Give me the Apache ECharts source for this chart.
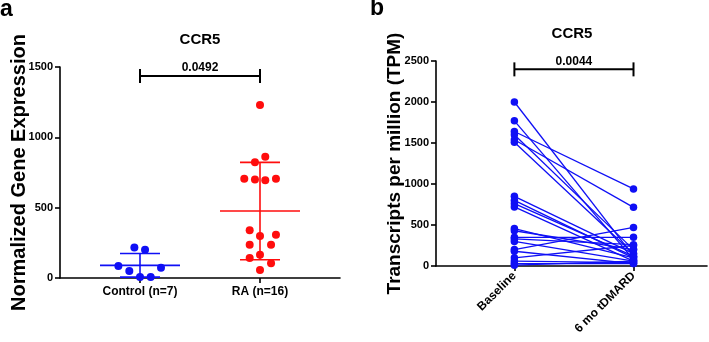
<!DOCTYPE html>
<html><head><meta charset="utf-8">
<script src="https://cdn.jsdelivr.net/npm/echarts@6/dist/echarts.min.js"></script>
<style>html,body{margin:0;padding:0;background:#fff}#c{width:709px;height:342px}</style>
</head><body><div id="c"></div>
<script>
// ---- Panel a data ----
const groupNames = ['Control (n=7)', 'RA (n=16)'];
const controlValues = [216, 201, 85, 50, 73, 7, 7];
const controlJitter = [-0.047, 0.042, -0.18, -0.089, 0.175, 0, 0.089];
const raValues = [1230, 862, 822, 706, 701, 695, 706, 339, 298, 308, 237, 237, 142, 166, 104, 57];
const raJitter = [0, 0.044, -0.042, -0.131, -0.042, 0.044, 0.133, -0.086, 0, 0.133, -0.086, 0.092, -0.086, 0, 0.092, 0];
const groupMeans = [90, 476];
const groupSD = [84, 346];
const pValueA = '0.0492';
const bracketA = 1436;
const yTicksA = [0, 500, 1000, 1500];

// ---- Panel b data ----
const timeNames = ['Baseline', '6 mo tDMARD'];
const baselineTPM = [2000, 1770, 1640, 1600, 1540, 1510, 850, 800, 760, 720, 456, 430, 350, 330, 300, 200, 180, 100, 60, 30, 10];
const followupTPM = [120, 80, 940, 200, 715, 150, 150, 100, 120, 60, 100, 200, 350, 260, 60, 470, 30, 250, 40, 30, 60];
const pValueB = '0.0044';
const bracketB = 2398;
const yTicksB = [0, 500, 1000, 1500, 2000, 2500];

const FONT = 'Liberation Sans, Arial, sans-serif';
const BLUE = '#0f0ff5';
const RED = '#ff0d0d';
const groupColors = [BLUE, RED];

function bracketRender(label) {
  return function (params, api) {
    const p1 = api.coord([api.value(0), api.value(2)]);
    const p2 = api.coord([api.value(1), api.value(2)]);
    const h = 7;
    const st = { stroke: '#000', lineWidth: 2 };
    return {
      type: 'group',
      children: [
        { type: 'line', shape: { x1: p1[0], y1: p1[1], x2: p2[0], y2: p2[1] }, style: st },
        { type: 'line', shape: { x1: p1[0], y1: p1[1] - h, x2: p1[0], y2: p1[1] + h }, style: st },
        { type: 'line', shape: { x1: p2[0], y1: p2[1] - h, x2: p2[0], y2: p2[1] + h }, style: st },
        { type: 'text', x: (p1[0] + p2[0]) / 2, y: p1[1] - 2,
          style: { text: label, fill: '#000', font: 'bold 12px ' + FONT, textAlign: 'center', textVerticalAlign: 'bottom' } }
      ]
    };
  };
}

function errRender(params, api) {
  const x = api.value(0), m = api.value(1), sd = api.value(2);
  const c = groupColors[params.dataIndex];
  const st = { stroke: c, lineWidth: 1.6 };
  const a = api.coord([x - 1/3, m]), b = api.coord([x + 1/3, m]);
  const hi1 = api.coord([x - 1/6, m + sd]), hi2 = api.coord([x + 1/6, m + sd]);
  const lo1 = api.coord([x - 1/6, Math.max(m - sd, 0)]), lo2 = api.coord([x + 1/6, Math.max(m - sd, 0)]);
  const vc = api.coord([x, m]);
  return {
    type: 'group',
    children: [
      { type: 'line', shape: { x1: a[0], y1: a[1], x2: b[0], y2: b[1] }, style: st },
      { type: 'line', shape: { x1: hi1[0], y1: hi1[1], x2: hi2[0], y2: hi2[1] }, style: st },
      { type: 'line', shape: { x1: lo1[0], y1: lo1[1], x2: lo2[0], y2: lo2[1] }, style: st },
      { type: 'line', shape: { x1: vc[0], y1: hi1[1], x2: vc[0], y2: lo1[1] }, style: st }
    ]
  };
}

const axisLineStyle = { color: '#000', width: 1.6 };
const labelStyle = { color: '#000', fontWeight: 'bold', fontFamily: FONT };

const series = [
  { type: 'scatter', xAxisIndex: 0, yAxisIndex: 0, symbolSize: 8, itemStyle: { color: BLUE, opacity: 1 },
    data: controlValues.map((v, i) => [1 + controlJitter[i], v]) },
  { type: 'scatter', xAxisIndex: 0, yAxisIndex: 0, symbolSize: 8, itemStyle: { color: RED, opacity: 1 },
    data: raValues.map((v, i) => [2 + raJitter[i], v]) },
  { type: 'custom', xAxisIndex: 0, yAxisIndex: 0, renderItem: errRender, z: 5,
    data: groupMeans.map((m, i) => [i + 1, m, groupSD[i]]) },
  { type: 'custom', xAxisIndex: 0, yAxisIndex: 0, renderItem: bracketRender(pValueA),
    data: [[1, 2, bracketA]] },
  { type: 'custom', xAxisIndex: 1, yAxisIndex: 1, renderItem: bracketRender(pValueB),
    data: [[1, 2, bracketB]] }
];
baselineTPM.forEach((b, i) => {
  series.push({
    type: 'line', xAxisIndex: 1, yAxisIndex: 1, symbol: 'circle', symbolSize: 7.5, showSymbol: true,
    lineStyle: { color: BLUE, width: 1.3 }, itemStyle: { color: BLUE },
    data: [[1, b], [2, followupTPM[i]]]
  });
});

const chart = echarts.init(document.getElementById('c'), null, { renderer: 'canvas' });
chart.setOption({
  animation: false,
  backgroundColor: '#fff',
  textStyle: { fontFamily: FONT },
  title: [
    { text: 'a', left: 0, top: -2, padding: 0, textStyle: { fontSize: 23, fontWeight: 'bold', color: '#000', fontFamily: FONT } },
    { text: 'b', left: 370, top: -3, padding: 0, textStyle: { fontSize: 23, fontWeight: 'bold', color: '#000', fontFamily: FONT } },
    { text: 'CCR5', left: 200, textAlign: 'center', top: 32, padding: 0, textStyle: { fontSize: 15, fontWeight: 'bold', color: '#000', fontFamily: FONT } },
    { text: 'CCR5', left: 572, textAlign: 'center', top: 26, padding: 0, textStyle: { fontSize: 15, fontWeight: 'bold', color: '#000', fontFamily: FONT } }
  ],
  grid: [
    { left: 60, top: 67, width: 280, height: 211 },
    { left: 436, top: 61, width: 271, height: 205 }
  ],
  xAxis: [
    { type: 'value', gridIndex: 0, min: 1/3, max: 8/3,
      axisLine: { show: true, onZero: false, lineStyle: axisLineStyle },
      axisTick: { show: true, customValues: [1, 2], length: 5, lineStyle: axisLineStyle },
      axisLabel: Object.assign({ customValues: [1, 2], fontSize: 12, margin: 8,
        formatter: v => groupNames[Math.round(v) - 1] }, labelStyle),
      splitLine: { show: false } },
    { type: 'value', gridIndex: 1, min: 0.342, max: 2.617,
      axisLine: { show: true, onZero: false, lineStyle: axisLineStyle },
      axisTick: { show: true, customValues: [1, 2], length: 5, lineStyle: axisLineStyle },
      axisLabel: Object.assign({ customValues: [1, 2], fontSize: 12, margin: 8, rotate: 45,
        formatter: v => timeNames[Math.round(v) - 1] }, labelStyle),
      splitLine: { show: false } }
  ],
  yAxis: [
    { type: 'value', gridIndex: 0, min: yTicksA[0], max: yTicksA[yTicksA.length - 1], interval: 500,
      name: 'Normalized Gene Expression', nameLocation: 'middle', nameGap: 31, nameMoveOverlap: false,
      nameTextStyle: { fontSize: 20, fontWeight: 'bold', color: '#000', fontFamily: FONT },
      axisLine: { show: true, onZero: false, lineStyle: axisLineStyle },
      axisTick: { show: true, length: 5, lineStyle: axisLineStyle },
      axisLabel: Object.assign({ fontSize: 11, margin: 7, formatter: v => String(v) }, labelStyle),
      splitLine: { show: false } },
    { type: 'value', gridIndex: 1, min: yTicksB[0], max: yTicksB[yTicksB.length - 1], interval: 500,
      name: 'Transcripts per million (TPM)', nameLocation: 'middle', nameGap: 32, nameMoveOverlap: false,
      nameTextStyle: { fontSize: 19, fontWeight: 'bold', color: '#000', fontFamily: FONT },
      axisLine: { show: true, onZero: false, lineStyle: axisLineStyle },
      axisTick: { show: true, length: 5, lineStyle: axisLineStyle },
      axisLabel: Object.assign({ fontSize: 11, margin: 7, formatter: v => String(v) }, labelStyle),
      splitLine: { show: false } }
  ],
  series: series
});
</script>
</body></html>
